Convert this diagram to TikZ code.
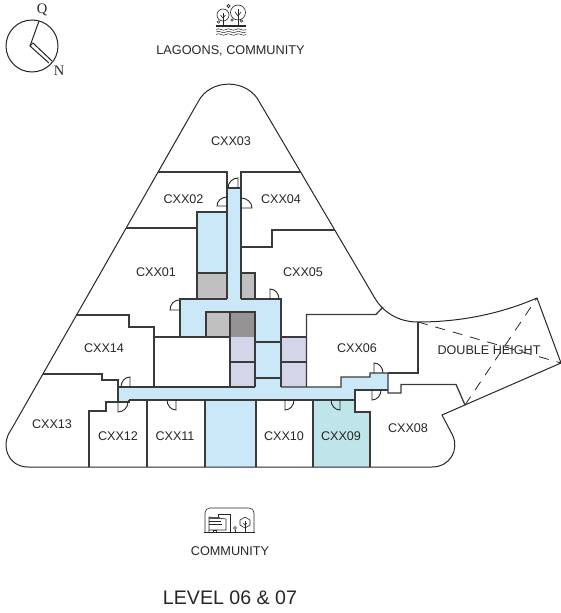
\documentclass[tikz,border=0pt]{standalone}
\usepackage{fontspec}
\setmainfont{Liberation Sans}
\newfontfamily\serifcomp{Liberation Serif}
\usetikzlibrary{calc}
\definecolor{ink}{HTML}{262626}
\definecolor{wall}{HTML}{3A3A3A}
\definecolor{corr}{HTML}{CBE8F8}
\definecolor{lgray}{HTML}{C0C0C0}
\definecolor{dgray}{HTML}{959394}
\definecolor{lav}{HTML}{D3D5E8}
\definecolor{teal}{HTML}{BFE5EA}
\tikzset{
  outer/.style={draw=ink,line width=1pt,line join=round},
  wallline/.style={draw=wall,line width=1.3pt,line join=miter},
  doorline/.style={draw=ink,line width=0.9pt},
  dashline/.style={draw=ink,line width=0.8pt,dash pattern=on 10pt off 8pt},
  room/.style={font=\fontsize{12.6}{14}\selectfont,text=ink,inner sep=0pt},
  caption/.style={font=\fontsize{12.7}{14}\selectfont,text=ink,inner sep=0pt},
  icon/.style={draw=ink,line width=0.6pt},
  compass/.style={inner sep=0pt,font=\serifcomp\fontsize{14.5}{16}\selectfont,text=ink},
}
\newcommand{\doorat}[3]{\draw[doorline] (#1) -- (#2) .. controls ($(#2)+0.55*(#3)-0.55*(#1)$) and ($(#3)+0.55*(#2)-0.55*(#1)$) .. (#3);}
\begin{document}
\begin{tikzpicture}[x=1pt,y=-1pt]
\useasboundingbox (0,0) rectangle (561,613);
% fills
\fill[corr] (227,188) rectangle (241,299);
\fill[corr] (197,212) rectangle (227,273);
\fill[corr] (180,299) rectangle (281,337);
\fill[corr] (255,337) rectangle (281,387);
\fill[corr] (118,387) -- (341,387) -- (341,377) -- (370,377) -- (370,373) -- (388,373) -- (388,390) -- (355,390) -- (355,400) -- (129,400) -- (129,402) -- (118,402) -- cycle;
\fill[corr] (205,400) rectangle (256,467);
\fill[teal] (313,400) -- (355,400) -- (355,412) -- (370,412) -- (370,467) -- (313,467) -- cycle;
\fill[lgray] (197,273) rectangle (227,299);
\fill[lgray] (241,273) rectangle (255,299);
\fill[lgray] (206,312) rectangle (230,337);
\fill[dgray] (230,312) rectangle (255,337);
\fill[lav] (230,337) rectangle (255,387);
\fill[lav] (281,337) rectangle (307,387);
% outer outline
\draw[outer] (198,102) .. controls (210,78) and (248,78) .. (260,103) -- (373,295) .. controls (382,312) and (398,322) .. (418,322) .. controls (460,322) and (500,314) .. (537,298) -- (561,363) -- (442,415) -- (453,436) .. controls (459,450) and (450,467) .. (432,467) -- (28,467) .. controls (8,467) and (0,445) .. (11,430) -- cycle;
% dashed
\draw[dashline] (418,322) -- (561,363);
\draw[dashline] (465,405) -- (537,298);
% walls
\draw[wallline] (158,172) -- (227,172) -- (227,299);
\draw[wallline] (301,172) -- (241,172) -- (241,299);
\draw[wallline] (227,188) -- (241,188);
\draw[wallline] (126,228) -- (197,228);
\draw[wallline] (227,212) -- (197,212) -- (197,299);
\draw[wallline] (197,273) -- (227,273);
\draw[wallline] (241,273) -- (255,273) -- (255,299);
\draw[wallline] (241,247) -- (272,247) -- (272,230) -- (335,230);
\draw[wallline] (180,337) -- (180,299) -- (227,299);
\draw[wallline] (241,299) -- (281,299) -- (281,387);
\draw[wallline] (206,337) -- (206,312) -- (255,312) -- (255,387);
\draw[wallline] (230,312) -- (230,387);
\draw[wallline] (154,337) -- (230,337);
\draw[wallline] (230,362) -- (255,362);
\draw[wallline] (255,342) -- (281,342);
\draw[wallline] (255,378) -- (281,378);
\draw[wallline] (281,337) -- (307,337);
\draw[wallline] (281,362) -- (307,362);
\draw[wallline] (76,315) -- (129,315) -- (129,327) -- (154,327) -- (154,387);
\draw[wallline] (43,374) -- (102,374) -- (102,380) -- (118,380) -- (118,402);
\draw[wallline] (118,387) -- (255,387);
\draw[wallline] (281,387) -- (341,387) -- (341,377) -- (370,377) -- (370,373) -- (388,373) -- (388,393) -- (401,393) -- (401,384.4) -- (456,384.4) -- (465,405);
\draw[wallline] (129,400) -- (355,400);
\draw[wallline] (129,400) -- (129,402) -- (106,402) -- (106,411) -- (89,411) -- (89,467);
\draw[wallline] (147,400) -- (147,467);
\draw[wallline] (205,400) -- (205,467);
\draw[wallline] (256,400) -- (256,467);
\draw[wallline] (313,400) -- (313,467);
\draw[wallline] (388,390) -- (355,390) -- (355,412) -- (370,412) -- (370,467);
\draw[wallline] (383,307) -- (376,314.4) -- (306.5,314.4) -- (306.5,387);
\draw[wallline] (418,322) -- (418,373) -- (388,373);
% doors
\coordinate (d1c) at (238,188); \coordinate (d1a) at (238,178); \coordinate (d1b) at (228,188); \doorat{d1c}{d1a}{d1b}
\coordinate (d2c) at (227,206); \coordinate (d2a) at (217,206); \coordinate (d2b) at (227,197); \doorat{d2c}{d2a}{d2b}
\coordinate (d3c) at (241,208); \coordinate (d3a) at (252,208); \coordinate (d3b) at (241,198); \doorat{d3c}{d3a}{d3b}
\coordinate (d4c) at (270,299); \coordinate (d4a) at (270,289); \coordinate (d4b) at (279,299); \doorat{d4c}{d4a}{d4b}
\coordinate (d5c) at (179,310); \coordinate (d5a) at (170,310); \coordinate (d5b) at (179,300); \doorat{d5c}{d5a}{d5b}
\coordinate (d6c) at (130,387); \coordinate (d6a) at (130,377); \coordinate (d6b) at (121,387); \doorat{d6c}{d6a}{d6b}
\coordinate (d7c) at (118,402); \coordinate (d7a) at (118,412); \coordinate (d7b) at (128,402); \doorat{d7c}{d7a}{d7b}
\coordinate (d8c) at (176,400); \coordinate (d8a) at (176,410); \coordinate (d8b) at (167,400); \doorat{d8c}{d8a}{d8b}
\coordinate (d9c) at (285,400); \coordinate (d9a) at (285,410); \coordinate (d9b) at (294,400); \doorat{d9c}{d9a}{d9b}
\coordinate (d10c) at (340,400); \coordinate (d10a) at (340,410); \coordinate (d10b) at (331,400); \doorat{d10c}{d10a}{d10b}
\coordinate (d11c) at (374,373); \coordinate (d11a) at (374,363); \coordinate (d11b) at (383,373); \doorat{d11c}{d11a}{d11b}
\coordinate (d12c) at (372,390); \coordinate (d12a) at (372,400); \coordinate (d12b) at (381,390); \doorat{d12c}{d12a}{d12b}
% labels
\node[room] (r03) at (231,141) {CXX03};
\node[room] (r02) at (183.5,199) {CXX02};
\node[room] (r04) at (281,199) {CXX04};
\node[room] (r01) at (156,272) {CXX01};
\node[room] (r05) at (303,272) {CXX05};
\node[room] (r14) at (104,348) {CXX14};
\node[room] (r06) at (357,348) {CXX06};
\node[room] (r13) at (52,424) {CXX13};
\node[room] (r12) at (118,436) {CXX12};
\node[room] (r11) at (175,436) {CXX11};
\node[room] (r10) at (284,436) {CXX10};
\node[room] (r09) at (341,436) {CXX09};
\node[room] (r08) at (408,428) {CXX08};
\node[room] (rdh) at (489,350) {DOUBLE HEIGHT};
\node[caption] (cap1) at (230.5,50.5) {LAGOONS, COMMUNITY};
\node[caption] (cap2) at (230,551) {COMMUNITY};
\node[inner sep=0pt,font=\fontsize{19.6}{22}\selectfont,text=ink] (lvl) at (230,598) {LEVEL 06 \& 07};
% compass
\draw[line width=1pt,draw=ink] (32,46) circle (26);
\draw[line width=1pt,draw=ink] (39,21) -- (30,46) -- (49,63);
\draw[line width=1pt,draw=ink] (30,46) -- (33,43) -- (52,61);
\node[compass] (cq) at (42,10) {Q};
\node[compass] (cn) at (59,71) {N};
% lagoon icon
\draw[icon] (238,12.5) circle (7.5);
\draw[icon] (223,15) circle (6);
\draw[icon] (228.5,6) circle (1.6);
\draw[icon] (218.5,22) circle (1.2);
\draw[icon] (232,20) circle (1.2);
\draw[icon] (241.5,21) circle (1.2);
\draw[icon] (238,9) -- (238,25);
\draw[icon] (223,13) -- (223,25);
\draw[icon] (235,12) -- (238,16) -- (241,12);
\draw[icon] (220.5,15) -- (223,18) -- (225.5,15);
\draw[icon] (216,25) -- (246,25);
\draw[icon] (216,26.5) -- (246,26.5);
\foreach \yy in {29.5,32,34.5}{
  \draw[icon,line width=0.5pt] (216,\yy) .. controls (218,\yy-1) and (219,\yy-1) .. (221,\yy) .. controls (223,\yy+1) and (224,\yy+1) .. (226,\yy) .. controls (228,\yy-1) and (229,\yy-1) .. (231,\yy) .. controls (233,\yy+1) and (234,\yy+1) .. (236,\yy) .. controls (238,\yy-1) and (239,\yy-1) .. (241,\yy) .. controls (243,\yy+1) and (244,\yy+1) .. (246,\yy);
}
% community icon
\draw[icon] (205,532) -- (205,513) .. controls (205,510) and (207,508) .. (210,508) -- (249,508) .. controls (252,508) and (254,510) .. (254,513) -- (254,532);
\draw[icon] (204,532) -- (255,532);
\draw[icon] (218,517) -- (218,514) -- (230,514) -- (230,532);
\draw[icon] (209,532) -- (209,517) -- (226,519) -- (226,530) -- (209,530);
\fill[ink!80] (209,517) rectangle (220,519);
\draw[icon] (209,521) -- (221,521);
\draw[icon] (209,524) -- (222,524);
\draw[icon] (213,532) rectangle (216,530);
\draw[icon] (235,528) circle (1.5);
\draw[icon] (235,529.5) -- (235,532);
\draw[icon] (245,517) -- (250,520) -- (250,525) -- (245,528) -- (240,525) -- (240,520) -- cycle;
\draw[icon] (245,521) -- (245,532);
\draw[icon] (243,523) -- (245,525) -- (247,523);
\end{tikzpicture}
\end{document}
